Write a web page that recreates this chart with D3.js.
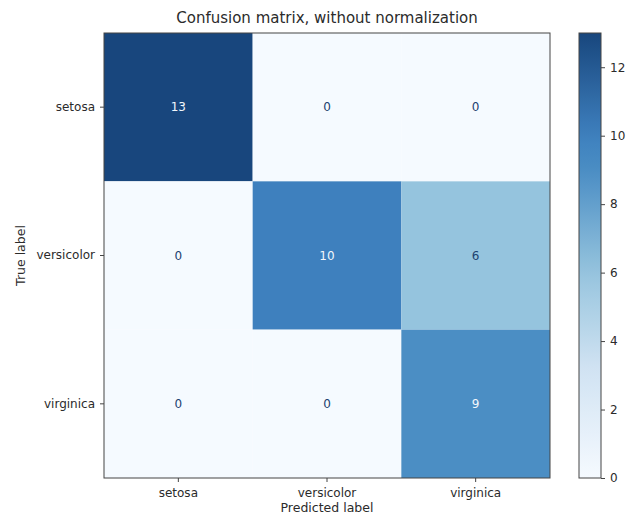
<!DOCTYPE html>
<html>
<head>
<meta charset="utf-8">
<script src="https://cdn.jsdelivr.net/npm/d3@7"></script>
<style>
  body { margin: 0; background: #fff; }
  text { font-family: "DejaVu Sans", sans-serif; fill: #2b2b2b; }
</style>
</head>
<body>
<div id="app"></div>
<script>
const labels = ['setosa', 'versicolor', 'virginica'];
// rows = true label, cols = predicted label
const matrix = [
  [13, 0, 0],
  [0, 10, 6],
  [0, 0, 9]
];
const cbarTicks = [0, 2, 4, 6, 8, 10, 12];

const width = 626;
const height = 515;
const svg = d3.select('#app').append('svg')
  .attr('width', width)
  .attr('height', height);

const plot = { left: 104, top: 33, right: 550, bottom: 478 };

const x = d3.scaleBand().domain(labels).range([plot.left, plot.right]);
const y = d3.scaleBand().domain(labels).range([plot.top, plot.bottom]);
const vmax = d3.max(matrix.flat());

// Blues-like ramp, toned to the reference picture
const ramp = d3.scaleLinear()
  .domain([0, 0.25, 0.46, 0.69, 0.77, 1])
  .range(['#f5faff', '#d0e2f2', '#96c4de', '#4b8ec4', '#3e80be', '#18467d'])
  .interpolate(d3.interpolateRgb)
  .clamp(true);
const color = v => ramp(v / vmax);

const cells = matrix.flatMap((row, i) => row.map((v, j) => ({ t: labels[i], p: labels[j], v })));

svg.append('g').selectAll('rect')
  .data(cells)
  .enter().append('rect')
  .attr('x', d => x(d.p))
  .attr('y', d => y(d.t))
  .attr('width', x.bandwidth())
  .attr('height', y.bandwidth())
  .attr('fill', d => color(d.v));

svg.append('g').selectAll('text')
  .data(cells)
  .enter().append('text')
  .attr('x', d => x(d.p) + x.bandwidth() / 2)
  .attr('y', d => y(d.t) + y.bandwidth() / 2)
  .attr('text-anchor', 'middle')
  .attr('dominant-baseline', 'central')
  .style('font-size', '12px')
  .style('fill', d => d.v > vmax / 2 ? '#f2f7fc' : '#1c4170')
  .text(d => d.v);

svg.append('rect')
  .attr('x', plot.left).attr('y', plot.top)
  .attr('width', plot.right - plot.left).attr('height', plot.bottom - plot.top)
  .attr('fill', 'none').attr('stroke', '#444').attr('stroke-width', 1);

const xAxis = svg.append('g')
  .attr('transform', `translate(0,${plot.bottom})`)
  .call(d3.axisBottom(x).tickSizeOuter(0).tickSize(4).tickPadding(6));
const yAxis = svg.append('g')
  .attr('transform', `translate(${plot.left},0)`)
  .call(d3.axisLeft(y).tickSizeOuter(0).tickSize(4).tickPadding(5));
[xAxis, yAxis].forEach(a => {
  a.select('.domain').remove();
  a.selectAll('.tick line').attr('stroke', '#444');
  a.selectAll('.tick text').style('font-size', '12px').attr('fill', '#2b2b2b');
});

svg.append('text')
  .attr('x', (plot.left + plot.right) / 2)
  .attr('y', 23)
  .attr('text-anchor', 'middle')
  .style('font-size', '15px')
  .text('Confusion matrix, without normalization');

svg.append('text')
  .attr('x', (plot.left + plot.right) / 2)
  .attr('y', 512)
  .attr('text-anchor', 'middle')
  .style('font-size', '12.5px')
  .text('Predicted label');

svg.append('text')
  .attr('transform', `translate(25,${(plot.top + plot.bottom) / 2}) rotate(-90)`)
  .attr('text-anchor', 'middle')
  .style('font-size', '12.5px')
  .text('True label');

// colorbar
const cb = { left: 579, right: 601 };
const cy = d3.scaleLinear().domain([0, vmax]).range([plot.bottom, plot.top]);
const defs = svg.append('defs');
const grad = defs.append('linearGradient')
  .attr('id', 'cbar').attr('x1', 0).attr('y1', 1).attr('x2', 0).attr('y2', 0);
d3.range(0, 1.0001, 0.05).forEach(t => {
  grad.append('stop').attr('offset', t).attr('stop-color', color(t * vmax));
});
svg.append('rect')
  .attr('x', cb.left).attr('y', plot.top)
  .attr('width', cb.right - cb.left).attr('height', plot.bottom - plot.top)
  .attr('fill', 'url(#cbar)')
  .attr('stroke', '#444').attr('stroke-width', 1);

const cAxis = svg.append('g')
  .attr('transform', `translate(${cb.right},0)`)
  .call(d3.axisRight(cy).tickValues(cbarTicks).tickSize(4).tickPadding(5));
cAxis.select('.domain').remove();
cAxis.selectAll('.tick line').attr('stroke', '#444');
cAxis.selectAll('.tick text').style('font-size', '12px').attr('fill', '#2b2b2b');
</script>
</body>
</html>
